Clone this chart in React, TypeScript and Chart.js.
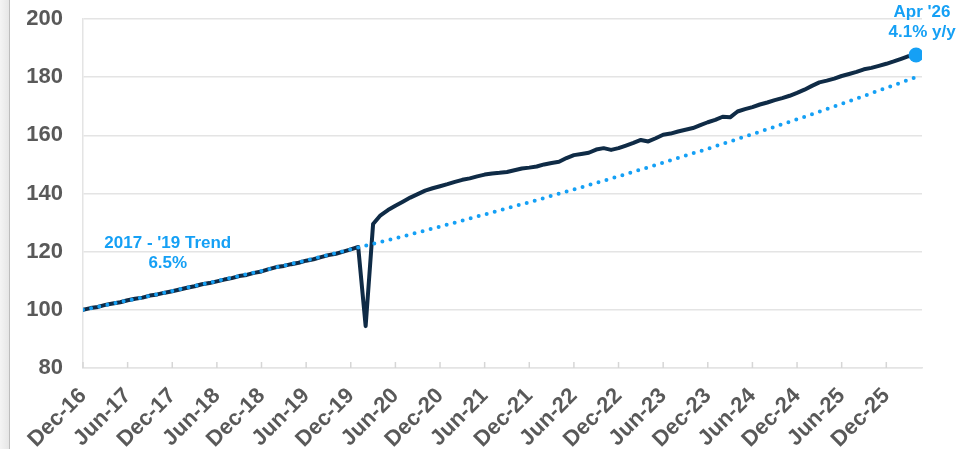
import React, { useEffect, useRef } from "react";
import { Chart, registerables } from "chart.js";

Chart.register(...registerables);

// Monthly index values, Dec-16 (index 0) through Apr-26 (index 112)
const mainValues: number[] = [
  100.0, 100.6, 101.0, 101.7, 102.2, 102.6, 103.3, 103.8, 104.2, 104.9,
  105.3, 105.9, 106.4, 107.0, 107.6, 108.1, 108.8, 109.2, 109.8, 110.4,
  110.9, 111.6, 112.0, 112.7, 113.2, 114.0, 114.7, 115.1, 115.7, 116.2,
  116.9, 117.4, 118.1, 118.8, 119.3, 120.0, 120.8, 121.6, 94.4, 129.5,
  132.5, 134.3, 135.8, 137.2, 138.6, 139.8, 141.0, 141.8, 142.5, 143.2,
  144.0, 144.7, 145.2, 145.9, 146.5, 146.9, 147.1, 147.4, 148.0, 148.6,
  148.9, 149.3, 150.0, 150.5, 150.9, 152.2, 153.2, 153.6, 154.0, 155.1,
  155.6, 155.0, 155.6, 156.5, 157.4, 158.4, 157.9, 159.0, 160.2, 160.6,
  161.3, 161.9, 162.5, 163.5, 164.5, 165.3, 166.4, 166.2, 168.2, 169.0,
  169.7, 170.6, 171.3, 172.1, 172.8, 173.6, 174.6, 175.7, 177.0, 178.2,
  178.8, 179.5, 180.4, 181.1, 181.8, 182.7, 183.2, 183.9, 184.6, 185.4,
  186.3, 187.2, 187.6,
];

// 2017-'19 trend (6.5%), read at 6-month steps
const trendMonths: number[] = [0, 6, 12, 18, 24, 30, 36, 42, 48, 54, 60, 66, 72, 78, 84, 90, 96, 102, 108, 112];
const trendValues: number[] = [
  100.0, 103.2, 106.5, 109.9, 113.4, 117.0, 120.8, 124.6, 128.6, 132.8,
  137.0, 141.4, 145.9, 150.6, 155.4, 160.4, 165.5, 170.8, 176.3, 180.0,
];

const xTickLabels: string[] = [
  "Dec-16", "Jun-17", "Dec-17", "Jun-18", "Dec-18", "Jun-19", "Dec-19", "Jun-20",
  "Dec-20", "Jun-21", "Dec-21", "Jun-22", "Dec-22", "Jun-23", "Dec-23", "Jun-24",
  "Dec-24", "Jun-25", "Dec-25",
];

const trendLabel: string[] = ["2017 - '19 Trend", "6.5%"];
const endLabel: string[] = ["Apr '26", "4.1% y/y"];

const NAVY = "#0f2b46";
const BLUE = "#15a0f5";
const GRAY_TEXT = "#595959";
const GRID = "#e4e4e4";

export default function App() {
  const ref = useRef<HTMLCanvasElement | null>(null);

  useEffect(() => {
    document.body.style.margin = "0";
    const canvas = ref.current;
    if (!canvas) return;
    const last = mainValues.length - 1;

    const tickMarks = {
      id: "tickMarks",
      afterDraw(chart: any) {
        const { ctx, chartArea, scales } = chart;
        const xs = scales.x;
        ctx.save();
        ctx.strokeStyle = "#d6d6d6";
        ctx.lineWidth = 1.5;
        xs.ticks.forEach((t: any) => {
          const px = xs.getPixelForValue(t.value);
          ctx.beginPath();
          ctx.moveTo(px, chartArea.bottom - 6);
          ctx.lineTo(px, chartArea.bottom);
          ctx.stroke();
        });
        ctx.restore();
      },
    };

    const labels = {
      id: "labels",
      afterDatasetsDraw(chart: any) {
        const { ctx, scales } = chart;
        const xs = scales.x;
        const ys = scales.y;
        ctx.save();
        ctx.fillStyle = BLUE;
        ctx.font = "bold 17px 'Liberation Sans', Arial, sans-serif";
        ctx.textAlign = "center";
        ctx.textBaseline = "middle";
        const tx = xs.getPixelForValue(11.4);
        ctx.fillText(trendLabel[0], tx, ys.getPixelForValue(123.0));
        ctx.fillText(trendLabel[1], tx, ys.getPixelForValue(116.1));
        const lx = xs.getPixelForValue(last) + 6;
        const ly = ys.getPixelForValue(mainValues[last]);
        ctx.fillText(endLabel[0], lx, ly - 43);
        ctx.fillText(endLabel[1], lx, ly - 23);
        ctx.restore();
      },
    };

    const chart = new Chart(canvas, {
      type: "line",
      data: {
        datasets: [
          {
            label: "Trend",
            data: trendMonths.map((m, i) => ({ x: m, y: trendValues[i] })),
            borderColor: BLUE,
            borderWidth: 4,
            borderDash: [0, 8.3],
            borderCapStyle: "round",
            pointRadius: 0,
            tension: 0,
            fill: false,
          },
          {
            label: "Index",
            data: mainValues.map((v, i) => ({ x: i, y: v })),
            borderColor: NAVY,
            borderWidth: 4,
            borderJoinStyle: "round",
            borderCapStyle: "round",
            pointRadius: (c: any) => (c.dataIndex === last ? 7.5 : 0),
            pointBackgroundColor: BLUE,
            pointBorderColor: BLUE,
            pointBorderWidth: 0,
            tension: 0,
            fill: false,
          },
        ],
      },
      options: {
        animation: false,
        responsive: false,
        maintainAspectRatio: false,
        layout: { padding: { top: 19, right: 57, left: 0, bottom: 0 } },
        plugins: {
          legend: { display: false },
          tooltip: { enabled: false },
        },
        scales: {
          x: {
            type: "linear",
            min: 0,
            max: 112.8,
            afterFit: (s: any) => {
              s.height = 81;
              s.paddingLeft = 0;
              s.paddingRight = 0;
            },
            grid: { display: false, drawTicks: false },
            border: { display: true, color: GRID, width: 1.5 },
            ticks: {
              stepSize: 6,
              includeBounds: false,
              autoSkip: false,
              minRotation: 45,
              maxRotation: 45,
              padding: 15,
              color: GRAY_TEXT,
              font: { family: "'Liberation Sans', Arial, sans-serif", size: 22, weight: "bold" },
              callback: (v: any) => {
                const k = Math.round(Number(v) / 6);
                return Number(v) % 6 === 0 ? xTickLabels[k] ?? "" : "";
              },
            },
          },
          y: {
            min: 80,
            max: 200,
            afterFit: (s: any) => {
              s.width = 83;
              s.paddingTop = 0;
              s.paddingBottom = 0;
            },
            grid: { color: GRID, lineWidth: 1.5, drawTicks: false },
            border: { display: true, color: GRID, width: 1.5 },
            ticks: {
              stepSize: 20,
              padding: 20,
              color: GRAY_TEXT,
              font: { family: "'Liberation Sans', Arial, sans-serif", size: 22, weight: "bold" },
            },
          },
        },
      },
      plugins: [tickMarks, labels],
    } as any);

    return () => chart.destroy();
  }, []);

  return (
    <div style={{ position: "relative", width: 979, height: 449, overflow: "hidden", background: "#fff" }}>
      <canvas ref={ref} width={979} height={449} style={{ position: "absolute", left: 0, top: 0, width: 979, height: 449 }} />
      <div
        style={{
          position: "absolute",
          left: 0,
          top: 0,
          width: 9,
          height: 449,
          background: "linear-gradient(to right, #f4f4f4, #e6e6e6)",
          borderRight: "1px solid #bdbdbd",
        }}
      />
    </div>
  );
}
